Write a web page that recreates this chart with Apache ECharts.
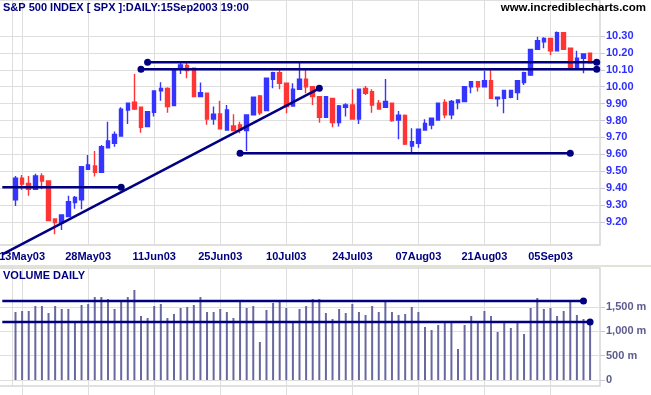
<!DOCTYPE html>
<html><head><meta charset="utf-8">
<script src="https://cdn.jsdelivr.net/npm/echarts@6/dist/echarts.min.js"></script>
<style>html,body{margin:0;padding:0;background:#fff}#c{width:651px;height:395px}</style>
</head><body><div id="c"></div>
<script>
const dates = ['12May03','13May03','14May03','15May03','16May03','19May03','20May03','21May03','22May03','23May03','27May03','28May03','29May03','30May03',
'02Jun03','03Jun03','04Jun03','05Jun03','06Jun03','09Jun03','10Jun03','11Jun03','12Jun03','13Jun03','16Jun03','17Jun03','18Jun03','19Jun03','20Jun03','23Jun03','24Jun03','25Jun03','26Jun03','27Jun03','30Jun03',
'01Jul03','02Jul03','03Jul03','07Jul03','08Jul03','09Jul03','10Jul03','11Jul03','14Jul03','15Jul03','16Jul03','17Jul03','18Jul03','21Jul03','22Jul03','23Jul03','24Jul03','25Jul03','28Jul03','29Jul03','30Jul03','31Jul03',
'01Aug03','04Aug03','05Aug03','06Aug03','07Aug03','08Aug03','11Aug03','12Aug03','13Aug03','14Aug03','15Aug03','18Aug03','19Aug03','20Aug03','21Aug03','22Aug03','25Aug03','26Aug03','27Aug03','28Aug03','29Aug03',
'02Sep03','03Sep03','04Sep03','05Sep03','08Sep03','09Sep03','10Sep03','11Sep03','12Sep03','15Sep03'];
const padBefore = ['08May03','09May03'];
const padAfter = ['16Sep03'];

const openP = [9.330,9.458,9.428,9.393,9.472,9.442,9.217,9.196,9.231,9.314,
9.330,9.511,9.531,9.494,9.639,9.665,9.708,9.862,9.908,9.878,
9.764,9.848,9.975,9.990,9.888,10.109,10.125,10.109,9.941,9.961,
9.809,9.839,9.744,9.768,9.774,9.740,9.833,9.945,9.858,10.044,
10.083,10.020,9.886,9.985,10.044,10.000,9.941,9.819,9.931,9.787,
9.878,9.892,9.809,9.990,9.971,9.902,9.878,9.902,9.803,9.830,
9.649,9.665,9.744,9.773,9.803,9.906,9.833,9.906,9.912,10.000,
10.030,10.000,10.036,9.929,9.931,9.937,9.965,10.024,10.069,10.221,
10.266,10.286,10.213,10.320,10.227,10.109,10.168,10.198];
const closeP = [9.458,9.423,9.393,9.472,9.442,9.208,9.196,9.241,9.320,9.344,
9.527,9.537,9.494,9.645,9.679,9.718,9.866,9.902,9.868,9.760,
9.852,9.975,9.990,9.882,10.105,10.128,10.095,9.941,9.965,9.809,
9.837,9.750,9.862,9.740,9.744,9.833,9.937,9.846,10.050,10.083,
10.020,9.882,9.985,10.044,10.000,9.941,9.819,9.941,9.787,9.886,
9.892,9.809,9.985,9.961,9.892,9.868,9.912,9.799,9.831,9.660,
9.675,9.748,9.783,9.813,9.902,9.833,9.912,9.921,10.000,10.030,
10.000,10.036,9.931,9.937,9.977,9.977,10.036,10.083,10.221,10.272,
10.286,10.213,10.320,10.221,10.103,10.168,10.194,10.142];
const lowP = [9.294,9.389,9.355,9.389,9.393,9.204,9.127,9.152,9.227,9.277,
9.275,9.507,9.468,9.492,9.635,9.645,9.708,9.779,9.862,9.728,
9.762,9.823,9.917,9.846,9.886,10.075,10.050,9.937,9.937,9.774,
9.774,9.748,9.740,9.738,9.724,9.620,9.830,9.833,9.856,9.990,
9.985,9.843,9.884,9.983,9.961,9.892,9.787,9.817,9.760,9.764,
9.823,9.807,9.779,9.951,9.846,9.866,9.876,9.793,9.689,9.655,
9.610,9.639,9.742,9.748,9.801,9.813,9.807,9.866,9.910,9.961,
9.971,9.998,9.929,9.882,9.843,9.931,9.921,10.010,10.063,10.219,
10.227,10.188,10.211,10.219,10.099,10.107,10.079,10.138];
const highP = [9.472,9.478,9.472,9.484,9.488,9.442,9.221,9.245,9.355,9.353,
9.531,9.596,9.620,9.655,9.793,9.734,9.878,9.906,10.075,9.882,
9.854,9.977,10.026,9.996,10.109,10.148,10.148,10.113,10.024,9.961,
9.882,9.917,9.892,9.837,9.793,9.835,9.939,9.951,10.052,10.089,
10.105,10.022,10.020,10.148,10.099,10.002,9.943,9.943,9.933,9.892,
9.902,9.985,9.987,10.004,9.985,9.921,10.046,9.904,9.856,9.835,
9.754,9.750,9.807,9.815,9.904,9.925,9.921,9.925,10.002,10.034,
10.034,10.095,10.109,9.939,9.979,9.981,10.040,10.089,10.223,10.296,
10.292,10.290,10.326,10.322,10.229,10.213,10.196,10.201];
const volume = [1393,1414,1414,1516,1516,1373,1516,1455,1455,1209,
1537,1557,1700,1700,1660,1455,1619,1700,1844,1311,
1270,1516,1557,1270,1352,1475,1496,1537,1700,1393,
1393,1455,1393,1270,1598,1475,1516,779,1434,1578,
1619,1475,1209,1455,1516,1660,1660,1373,1250,1455,
1373,1557,1393,1332,1516,1393,1619,1393,1332,1352,
1496,1393,1086,1025,1127,1209,1188,635,1127,1311,
1209,1414,1311,984,1188,1066,1175,943,1475,1680,
1455,1475,1311,1414,1619,1332,1250,1148];

const priceTicks = [9.2,9.3,9.4,9.5,9.6,9.7,9.8,9.9,10.0,10.1,10.2,10.3];
const volTicks = [0,500,1000,1500];
const volTickLabels = ['0','500 m','1,000 m','1,500 m'];
const xLabels = ['13May03','28May03','11Jun03','25Jun03','10Jul03','24Jul03','07Aug03','21Aug03','05Sep03'];

// drawn levels: [startDate, startValue, endDate, endValue, dotAtStart, dotAtEnd]
const priceLines = [
  ['08May03', 9.405, '04Jun03', 9.405, false, true],
  ['08May03', 9.007, '17Jul03', 9.990, false, true],
  ['10Jun03', 10.145, '16Sep03', 10.145, true, true],
  ['09Jun03', 10.103, '16Sep03', 10.103, true, true],
  ['30Jun03', 9.606, '10Sep03', 9.606, true, true]
];
const volLines = [
  ['08May03', 1619, '12Sep03', 1619, false, true],
  ['08May03', 1189, '15Sep03', 1189, false, true]
];

const cats = padBefore.concat(dates, padAfter);
const candleData = padBefore.map(() => '-')
  .concat(dates.map((d, i) => [openP[i], closeP[i], lowP[i], highP[i]]))
  .concat(padAfter.map(() => '-'));
const volData = padBefore.map(() => '-').concat(volume).concat(padAfter.map(() => '-'));

const FONT = "Arial, 'Liberation Sans', sans-serif";
const NAVY = '#000080';
const GRID = '#dedede';

function lineSeries(def, xi, yi) {
  return def.map(l => ({
    type: 'line', xAxisIndex: xi, yAxisIndex: yi, clip: false, silent: true, z: 6,
    showSymbol: true, showAllSymbol: true,
    lineStyle: {color: NAVY, width: 2.5}, itemStyle: {color: NAVY},
    symbolSize: 7,
    data: [
      {value: [cats.indexOf(l[0]), l[1]], symbol: l[4] ? 'circle' : 'none'},
      {value: [cats.indexOf(l[2]), l[3]], symbol: l[5] ? 'circle' : 'none'}
    ]
  }));
}

function vGridSeries(xi, yi, extraBottom) {
  return {
    type: 'custom', xAxisIndex: xi, yAxisIndex: yi, silent: true, z: 1, clip: false,
    data: xLabels.map(d => [cats.indexOf(d)]),
    encode: {x: 0},
    renderItem: (params, api) => {
      const cs = params.coordSys;
      const x = Math.round(api.coord([api.value(0), 0])[0]) + 0.5;
      return {type: 'line', shape: {x1: x, y1: cs.y, x2: x, y2: cs.y + cs.height + extraBottom},
              style: {stroke: GRID, lineWidth: 1}};
    }
  };
}

const chart = echarts.init(document.getElementById('c'), null, {renderer: 'canvas'});
chart.setOption({
  animation: false,
  backgroundColor: '#ffffff',
  title: [
    {text: 'S&P 500 INDEX [ SPX ]:DAILY:15Sep2003 19:00', left: 3, top: 2, padding: 0,
     textStyle: {color: NAVY, fontSize: 11, fontWeight: 'bold', fontFamily: FONT}},
    {text: 'www.incrediblecharts.com', right: 5, top: 2, padding: 0,
     textStyle: {color: '#000000', fontSize: 11.5, fontWeight: 'bold', fontFamily: FONT}},
    {text: 'VOLUME DAILY', left: 3, top: 270, padding: 0,
     textStyle: {color: NAVY, fontSize: 11, fontWeight: 'bold', fontFamily: FONT}}
  ],
  graphic: [
    {type: 'rect', shape: {x: 0, y: 265, width: 651, height: 2}, style: {fill: '#e2e2d6'}, silent: true},
    {type: 'line', shape: {x1: 12.5, y1: 0, x2: 12.5, y2: 245}, style: {stroke: GRID, lineWidth: 1}, silent: true, z: -1},
    {type: 'line', shape: {x1: 12.5, y1: 268, x2: 12.5, y2: 386}, style: {stroke: GRID, lineWidth: 1}, silent: true, z: -1}
  ],
  grid: [
    {left: -1, top: 0, width: 601, height: 245, show: true, borderColor: '#d6d6d6', borderWidth: 1.5, outerBoundsMode: 'none', containLabel: false},
    {left: -1, top: 268, width: 601, height: 118, show: true, borderColor: '#d6d6d6', borderWidth: 1.5, outerBoundsMode: 'none', containLabel: false}
  ],
  xAxis: [
    {type: 'category', gridIndex: 0, data: cats, boundaryGap: true,
     axisLine: {show: false}, axisTick: {show: false}, splitLine: {show: false},
     axisLabel: {interval: (i, v) => xLabels.indexOf(v) >= 0, color: NAVY, fontSize: 11, fontWeight: 'bold', fontFamily: FONT, margin: 6}},
    {type: 'category', gridIndex: 1, data: cats, boundaryGap: true,
     axisLine: {show: false}, splitLine: {show: false}, axisTick: {show: false},
     axisLabel: {show: false}}
  ],
  yAxis: [
    {type: 'value', gridIndex: 0, position: 'right', min: 9.063, max: 10.513, scale: true,
     axisLine: {show: false},
     axisTick: {show: true, customValues: priceTicks, length: 5, lineStyle: {color: '#c8c8d8'}},
     splitLine: {show: true, lineStyle: {color: GRID, width: 1}},
     axisLabel: {customValues: priceTicks, formatter: v => v.toFixed(2), color: '#2f2fff', fontSize: 11, fontWeight: 'bold', fontFamily: FONT, margin: 6}},
    {type: 'value', gridIndex: 1, position: 'right', min: -123, max: 2295,
     axisLine: {show: false},
     axisTick: {show: true, customValues: volTicks, length: 5, lineStyle: {color: '#c8c8d8'}},
     splitLine: {show: true, lineStyle: {color: GRID, width: 1}},
     axisLabel: {customValues: volTicks, formatter: v => volTickLabels[volTicks.indexOf(v)], color: '#5c5c8e', fontSize: 11, fontWeight: 'bold', fontFamily: FONT, margin: 6}}
  ],
  series: [
    vGridSeries(0, 0, 0),
    vGridSeries(1, 1, 9),
    {type: 'candlestick', xAxisIndex: 0, yAxisIndex: 0, data: candleData, barWidth: 4, z: 3,
     itemStyle: {color: '#3535ff', color0: '#ff3535', borderColor: '#3535ff', borderColor0: '#ff3535', borderWidth: 1.4}},
    {type: 'bar', xAxisIndex: 1, yAxisIndex: 1, data: volData, barWidth: 2, z: 3,
     itemStyle: {color: '#6868a0'}}
  ].concat(lineSeries(priceLines, 0, 0), lineSeries(volLines, 1, 1))
});
</script>
</body></html>
